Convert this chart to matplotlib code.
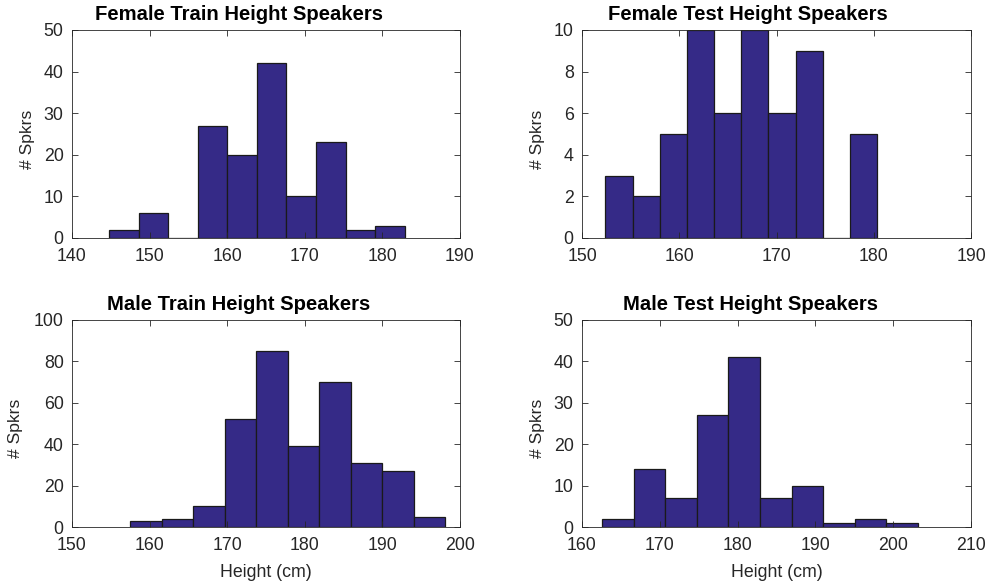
import numpy as np
import matplotlib
matplotlib.use("Agg")
import matplotlib.pyplot as plt

plt.rcParams['font.family'] = ['Liberation Sans', 'DejaVu Sans']

titles = ["Female Train Height Speakers", "Female Test Height Speakers",
          "Male Train Height Speakers", "Male Test Height Speakers"]
# bin ranges (cm) and counts, 10 bins each
ranges = [(144.78, 182.88), (152.40, 180.34), (157.48, 198.12), (162.56, 203.20)]
counts_ftrain = [2, 6, 0, 27, 20, 42, 10, 23, 2, 3]
counts_ftest = [3, 2, 5, 10, 6, 10, 6, 9, 0, 5]
counts_mtrain = [3, 4, 10, 52, 85, 39, 70, 31, 27, 5]
counts_mtest = [2, 14, 7, 27, 41, 7, 10, 1, 2, 1]
all_counts = [counts_ftrain, counts_ftest, counts_mtrain, counts_mtest]
xlims = [(140, 190), (150, 190), (150, 200), (160, 210)]
xticks = [[140, 150, 160, 170, 180, 190], [150, 160, 170, 180, 190],
          [150, 160, 170, 180, 190, 200], [160, 170, 180, 190, 200, 210]]
ylims = [(0, 50), (0, 10), (0, 100), (0, 50)]
yticks = [[0, 10, 20, 30, 40, 50], [0, 2, 4, 6, 8, 10],
          [0, 20, 40, 60, 80, 100], [0, 10, 20, 30, 40, 50]]

W, H = 987, 583
fig = plt.figure(figsize=(W / 100, H / 100), dpi=100)
# axes boxes in pixels: left, top, right, bottom
boxes = [(72, 30, 460, 238), (582, 30, 971, 238),
         (72, 320, 460, 527), (582, 320, 971, 527)]
title_x = [0.43, 0.427, 0.43, 0.434]
ylabel_x = [-0.0954, -0.0951, -0.126, -0.0951]

bar_color = '#352a87'
txt = '#262626'
for i in range(4):
    l, t, r, b = boxes[i]
    ax = fig.add_axes([l / W, 1 - b / H, (r - l) / W, (b - t) / H])
    lo, hi = ranges[i]
    edges = np.linspace(lo, hi, len(all_counts[i]) + 1)
    ax.bar(edges[:-1], all_counts[i], width=np.diff(edges), align='edge',
           color=bar_color, edgecolor='#1a1a1a', linewidth=0.9, clip_on=True)
    ax.set_xlim(*xlims[i])
    ax.set_ylim(*ylims[i])
    ax.set_xticks(xticks[i])
    ax.set_yticks(yticks[i])
    ax.tick_params(direction='in', top=True, right=True, length=4,
                   width=0.6, color='#262626', labelsize=12.8, labelcolor=txt)
    ax.tick_params(axis='x', pad=7.5)
    ax.tick_params(axis='y', pad=6)
    for s in ax.spines.values():
        s.set_color('#262626')
        s.set_linewidth(0.6)
    ax.set_title(titles[i], fontsize=14.6, fontweight='bold', color='black',
                 pad=7, x=title_x[i])
    ax.set_ylabel('# Spkrs', fontsize=12.6, color=txt)
    ax.yaxis.set_label_coords(ylabel_x[i], 0.476)
    if i >= 2:
        ax.set_xlabel('Height (cm)', fontsize=12.8, color=txt, labelpad=7)

fig.savefig('out.png', dpi=100, facecolor='white')
